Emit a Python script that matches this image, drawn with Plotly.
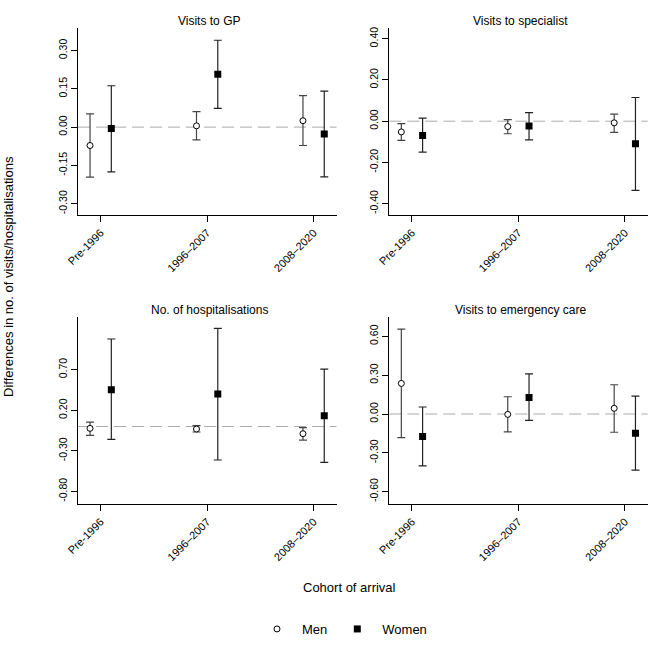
import plotly.graph_objects as go

# cohorts on the x axis
cohorts = ["Pre-1996", "1996–2007", "2008–2020"]
panel_titles = ["Visits to GP", "Visits to specialist",
                "No. of hospitalisations", "Visits to emergency care"]

# estimates and 95% CI (lower, upper), men then women, per panel
gp_men = [-0.072, 0.005, 0.025]
gp_men_lo = [-0.196, -0.050, -0.072]
gp_men_hi = [0.052, 0.061, 0.123]
gp_women = [-0.005, 0.207, -0.027]
gp_women_lo = [-0.175, 0.073, -0.195]
gp_women_hi = [0.162, 0.340, 0.141]

spec_men = [-0.052, -0.026, -0.008]
spec_men_lo = [-0.093, -0.061, -0.054]
spec_men_hi = [-0.012, 0.008, 0.034]
spec_women = [-0.070, -0.023, -0.110]
spec_women_lo = [-0.150, -0.091, -0.336]
spec_women_hi = [0.015, 0.042, 0.115]

hosp_men = [-0.023, -0.031, -0.089]
hosp_men_lo = [-0.109, -0.068, -0.167]
hosp_men_hi = [0.055, 0.010, -0.015]
hosp_women = [0.453, 0.400, 0.133]
hosp_women_lo = [-0.159, -0.413, -0.442]
hosp_women_hi = [1.078, 1.209, 0.708]

emer_men = [0.236, -0.003, 0.044]
emer_men_lo = [-0.182, -0.138, -0.141]
emer_men_hi = [0.656, 0.133, 0.226]
emer_women = [-0.174, 0.128, -0.149]
emer_women_lo = [-0.400, -0.049, -0.433]
emer_women_hi = [0.054, 0.310, 0.138]

# y ticks per panel
yticks = [
    [-0.30, -0.15, 0.00, 0.15, 0.30],
    [-0.40, -0.20, 0.00, 0.20, 0.40],
    [-0.80, -0.30, 0.20, 0.70],
    [-0.60, -0.30, 0.00, 0.30, 0.60],
]
yranges = [[-0.344, 0.388], [-0.455, 0.452], [-0.955, 1.349], [-0.695, 0.749]]

panels = [
    (gp_men, gp_men_lo, gp_men_hi, gp_women, gp_women_lo, gp_women_hi),
    (spec_men, spec_men_lo, spec_men_hi, spec_women, spec_women_lo, spec_women_hi),
    (hosp_men, hosp_men_lo, hosp_men_hi, hosp_women, hosp_women_lo, hosp_women_hi),
    (emer_men, emer_men_lo, emer_men_hi, emer_women, emer_women_lo, emer_women_hi),
]

W = H = 664


def px(v):
    return v / W


def py(v):
    return 1 - v / H


# panel boxes in pixels: (left, right, top, bottom)
boxes = [(78, 336.5, 28, 215), (389.3, 647.7, 28, 215),
         (78, 336.5, 317, 504), (389.3, 647.7, 317, 504)]

FONT = "Liberation Sans, Arial, sans-serif"
offset = 0.1
xpos = [1, 2, 3]

fig = go.Figure()
layout = {}

for i, (m, mlo, mhi, w, wlo, whi) in enumerate(panels):
    n = "" if i == 0 else str(i + 1)
    xa, ya = "x" + n, "y" + n
    l, r, t, b = boxes[i]
    fig.add_trace(go.Scatter(
        x=[p - offset for p in xpos], y=m, xaxis=xa, yaxis=ya,
        mode="markers", name="Men", showlegend=(i == 0),
        marker=dict(symbol="circle", size=6, color="white",
                    line=dict(color="black", width=1)),
        error_y=dict(type="data", symmetric=False,
                     array=[h - v for h, v in zip(mhi, m)],
                     arrayminus=[v - lo for v, lo in zip(m, mlo)],
                     color="#444444", thickness=1.2, width=4),
    ))
    fig.add_trace(go.Scatter(
        x=[p + offset for p in xpos], y=w, xaxis=xa, yaxis=ya,
        mode="markers", name="Women", showlegend=(i == 0),
        marker=dict(symbol="square", size=7, color="black"),
        error_y=dict(type="data", symmetric=False,
                     array=[h - v for h, v in zip(whi, w)],
                     arrayminus=[v - lo for v, lo in zip(w, wlo)],
                     color="#222222", thickness=1.2, width=4),
    ))
    layout["xaxis" + n] = dict(
        domain=[px(l), px(r)], anchor=ya, range=[0.787, 3.215],
        tickvals=xpos, ticktext=cohorts, tickangle=-45, automargin=False,
        showline=True, linecolor="black", linewidth=1.3,
        ticks="outside", ticklen=6, tickcolor="black",
        showgrid=False, zeroline=False,
        tickfont=dict(size=11, color="black"),
    )
    layout["yaxis" + n] = dict(
        domain=[py(b), py(t)], anchor=xa, range=yranges[i],
        tickvals=yticks[i], ticktext=[f"{v:.2f}" for v in yticks[i]],
        tickangle=-90, automargin=False,
        showline=True, linecolor="black", linewidth=1.3,
        ticks="outside", ticklen=6, tickcolor="black",
        showgrid=False, zeroline=False,
        tickfont=dict(size=10.5, color="black"),
    )
    fig.add_shape(type="line", xref=xa + " domain", yref=ya,
                  x0=0, x1=1, y0=0, y1=0, layer="below",
                  line=dict(color="#aaaaaa", width=1, dash="12px,6px"))
    fig.add_annotation(text=panel_titles[i], xref="paper", yref="paper",
                       x=px((l + r) / 2 + 2), y=py(t - 7.5),
                       xanchor="center", yanchor="middle", showarrow=False,
                       font=dict(size=12, color="black"))

fig.add_annotation(text="Differences in no. of visits/hospitalisations",
                   xref="paper", yref="paper", x=px(8), y=py(277),
                   textangle=-90, showarrow=False, xanchor="center",
                   yanchor="middle", font=dict(size=13, color="black"))
fig.add_annotation(text="Cohort of arrival", xref="paper", yref="paper",
                   x=px(349), y=py(587), showarrow=False,
                   xanchor="center", yanchor="middle",
                   font=dict(size=13, color="black"))

fig.update_layout(
    **layout,
    width=W, height=H,
    margin=dict(l=0, r=0, t=0, b=0, autoexpand=False),
    paper_bgcolor="white", plot_bgcolor="white",
    font=dict(family=FONT, color="black"),
    legend=dict(orientation="h", x=px(252), y=py(629),
                xanchor="left", yanchor="middle",
                font=dict(size=13), itemwidth=40,
                tracegroupgap=0, bgcolor="rgba(0,0,0,0)"),
)

# the page body has a default 8px margin; drop it so the figure fills the window
fig.write_html("out.html", config={"displayModeBar": False},
               post_script="document.body.style.margin='0px';")
